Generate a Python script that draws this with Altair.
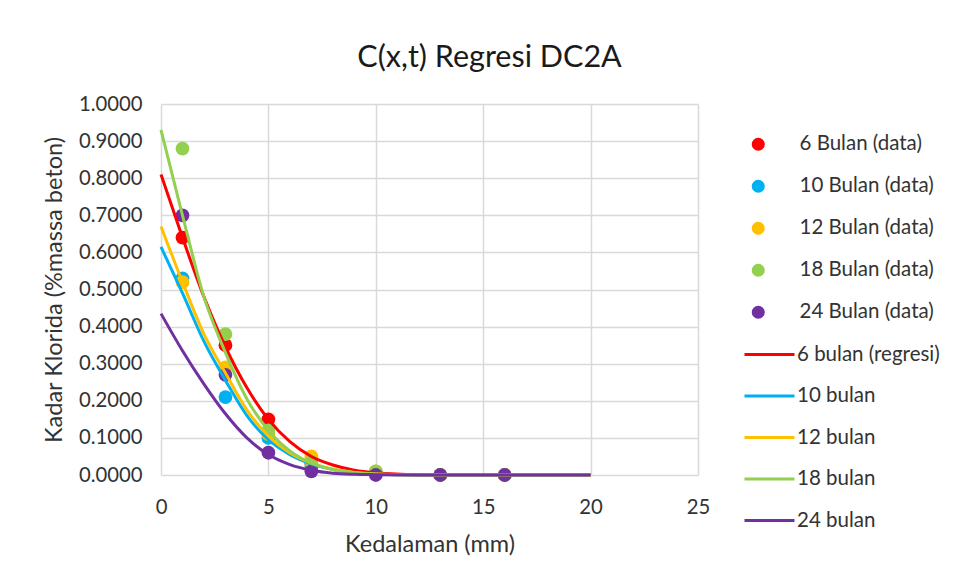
import altair as alt
import pandas as pd

# ---- data ----
point_labels = ["6 Bulan (data)", "10 Bulan (data)", "12 Bulan (data)", "18 Bulan (data)", "24 Bulan (data)"]
line_labels = ["6 bulan (regresi)", "10 bulan", "12 bulan", "18 bulan", "24 bulan"]
colors = ["#FF0000", "#00B0F0", "#FFC000", "#92D050", "#7030A0"]

depth_data = [1, 3, 5, 7, 10, 13, 16]
data_6 = [0.64, 0.35, 0.15, 0.03, 0.005, 0.0, 0.0]
data_10 = [0.53, 0.21, 0.10, 0.02, 0.005, 0.0, 0.0]
data_12 = [0.52, 0.29, 0.11, 0.05, 0.01, 0.0, 0.0]
data_18 = [0.88, 0.38, 0.12, 0.035, 0.01, 0.0, 0.0]
data_24 = [0.70, 0.27, 0.06, 0.01, 0.0, 0.0, 0.0]

depth_reg = [0, 1, 2, 3, 4, 5, 6, 7, 8, 9, 10, 12, 15, 20]
reg_6 = [0.81, 0.64, 0.48, 0.345, 0.235, 0.15, 0.09, 0.05, 0.027, 0.013, 0.006, 0.001, 0.0, 0.0]
reg_10 = [0.615, 0.49, 0.36, 0.255, 0.16, 0.095, 0.055, 0.03, 0.015, 0.007, 0.003, 0.0, 0.0, 0.0]
reg_12 = [0.67, 0.52, 0.38, 0.275, 0.175, 0.105, 0.06, 0.032, 0.016, 0.007, 0.003, 0.0, 0.0, 0.0]
reg_18 = [0.93, 0.70, 0.48, 0.33, 0.205, 0.12, 0.065, 0.032, 0.015, 0.006, 0.002, 0.0, 0.0, 0.0]
reg_24 = [0.435, 0.335, 0.245, 0.165, 0.10, 0.055, 0.028, 0.013, 0.005, 0.002, 0.001, 0.0, 0.0, 0.0]

x_ticks = [0, 5, 10, 15, 20, 25]
y_ticks = [0.0, 0.1, 0.2, 0.3, 0.4, 0.5, 0.6, 0.7, 0.8, 0.9, 1.0]

data_series = [data_6, data_10, data_12, data_18, data_24]
reg_series = [reg_6, reg_10, reg_12, reg_18, reg_24]

pts = pd.DataFrame([
    {"x": x, "y": y, "series": lab, "order": i}
    for i, (lab, vals) in enumerate(zip(point_labels, data_series))
    for x, y in zip(depth_data, vals)
])
lns = pd.DataFrame([
    {"x": x, "y": y, "series": lab}
    for lab, vals in zip(line_labels, reg_series)
    for x, y in zip(depth_reg, vals)
])

FONT = "Lato"
TXT = "#333333"
LEG_FS = 20.5

x_enc = alt.X("x:Q", scale=alt.Scale(domain=[0, 25], nice=False),
              axis=alt.Axis(title="Kedalaman (mm)", values=x_ticks, format="d",
                            labelPadding=22, titlePadding=15, labelFlush=False))
y_enc = alt.Y("y:Q", scale=alt.Scale(domain=[0, 1], nice=False),
              axis=alt.Axis(title="Kadar Klorida (%massa beton)", values=y_ticks,
                            format=".4f", labelPadding=19, titlePadding=12,
                            labelFlush=False))

points = alt.Chart(pts).mark_circle(size=190, opacity=1).encode(
    x=x_enc, y=y_enc,
    color=alt.Color("series:N", scale=alt.Scale(domain=point_labels, range=colors),
                    legend=alt.Legend(orient="none", legendX=587, legendY=30, title=None,
                                      symbolSize=170, labelFontSize=LEG_FS, labelFont=FONT,
                                      labelColor=TXT, rowPadding=21, labelOffset=31,
                                      symbolType="circle", labelLimit=300)),
    order=alt.Order("order:Q"),
)

lines = alt.Chart(lns).mark_line(strokeWidth=3, interpolate="monotone").encode(
    x=x_enc, y=y_enc,
    stroke=alt.Stroke("series:N", scale=alt.Scale(domain=line_labels, range=colors),
                      legend=alt.Legend(orient="none", legendX=582, legendY=224, title=None,
                                        symbolType="stroke", symbolSize=2500,
                                        symbolStrokeWidth=3, labelFontSize=LEG_FS,
                                        labelFont=FONT, labelColor=TXT, rowPadding=4.5,
                                        labelOffset=1, labelLimit=300)),
)

chart = alt.layer(points, lines).properties(
    width=537, height=371,
    background="white",
    title=alt.TitleParams("C(x,t) Regresi DC2A", fontSize=30.5, font=FONT,
                          fontWeight="normal", color="#1a1a1a", anchor="middle",
                          dx=60, offset=21),
    autosize=alt.AutoSizeParams(type="none"),
    padding={"left": 153, "top": 96, "right": 252, "bottom": 97},
).configure_axis(
    labelFont=FONT, titleFont=FONT, labelFontSize=20.3, titleFontSize=23.5,
    labelColor=TXT, titleColor=TXT, titleFontWeight="normal",
    grid=True, gridColor="#d9d9d9", gridWidth=1.5, domain=False, ticks=False,
    labelOverlap=False,
).configure_view(stroke=None)

chart.save("out.html", embed_options={"renderer": "svg", "actions": False})
